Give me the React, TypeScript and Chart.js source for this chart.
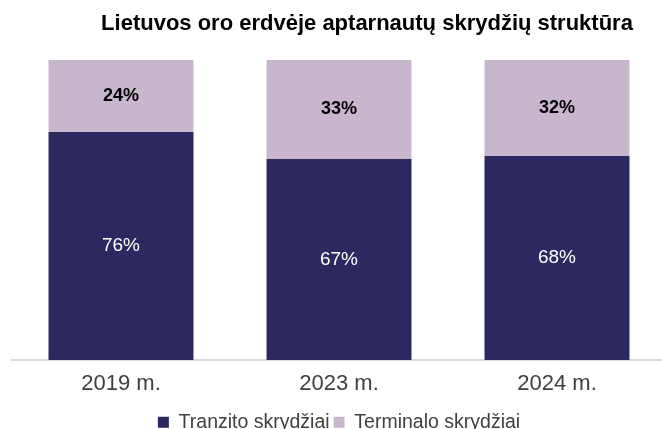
import React, { useEffect, useRef } from "react";
import { Chart, registerables } from "chart.js";

Chart.register(...registerables);

const categories = ["2019 m.", "2023 m.", "2024 m."];
const tranzito = [76, 67, 68];
const terminalo = [24, 33, 32];
const seriesNames = ["Tranzito skrydžiai", "Terminalo skrydžiai"];
const titleText = "Lietuvos oro erdvėje aptarnautų skrydžių struktūra";

const NAVY = "#2B2960";
const LILAC = "#C8B7CC";
const FONT = "'Liberation Sans', Arial, sans-serif";

export default function App() {
  const ref = useRef<HTMLCanvasElement | null>(null);

  useEffect(() => {
    if (!ref.current) return;
    const labelPlugin = {
      id: "barLabels",
      afterDatasetsDraw(chart: any) {
        const ctx = chart.ctx;
        ctx.save();
        ctx.textAlign = "center";
        ctx.textBaseline = "middle";
        chart.data.datasets.forEach((ds: any, di: number) => {
          const meta = chart.getDatasetMeta(di);
          meta.data.forEach((el: any, i: number) => {
            const v = ds.data[i];
            const y = (el.y + el.base) / 2;
            if (di === 0) {
              ctx.font = `19px ${FONT}`;
              ctx.fillStyle = "#FFFFFF";
            } else {
              ctx.font = `bold 18px ${FONT}`;
              ctx.fillStyle = "#000000";
            }
            ctx.fillText(v + "%", el.x, y);
          });
        });
        ctx.restore();
      },
    };
    const titlePlugin = {
      id: "offsetTitle",
      afterDraw(chart: any) {
        const ctx = chart.ctx;
        const ca = chart.chartArea;
        ctx.save();
        ctx.font = `bold 22px ${FONT}`;
        ctx.fillStyle = "#000000";
        ctx.textAlign = "center";
        ctx.textBaseline = "middle";
        ctx.fillText(titleText, (ca.left + ca.right) / 2 + 28, 24);
        ctx.restore();
      },
    };
    const chart = new Chart(ref.current, {
      type: "bar",
      data: {
        labels: categories,
        datasets: [
          { label: seriesNames[0], data: tranzito, backgroundColor: NAVY, borderWidth: 0 },
          { label: seriesNames[1], data: terminalo, backgroundColor: LILAC, borderWidth: 0 },
        ],
      },
      options: {
        animation: false,
        responsive: false,
        maintainAspectRatio: false,
        layout: { padding: { left: 12, right: 14, top: 60, bottom: -13 } },
        datasets: { bar: { categoryPercentage: 1, barPercentage: 0.665 } },
        scales: {
          x: {
            stacked: true,
            grid: { display: false, drawTicks: false },
            border: { display: true, color: "#D9D9D9", width: 2 },
            ticks: { color: "#404040", font: { family: FONT, size: 22 }, padding: 11 },
          },
          y: { stacked: true, min: 0, max: 100, display: false },
        },
        plugins: {
          legend: {
            position: "bottom",
            labels: {
              boxWidth: 11,
              boxHeight: 11,
              color: "#404040",
              font: { family: FONT, size: 19.5 },
              padding: 4,
            },
          },
          tooltip: { enabled: false },
          title: { display: false },
        },
      },
      plugins: [labelPlugin, titlePlugin],
    });
    return () => chart.destroy();
  }, []);

  return (
    <div style={{ position: "absolute", left: 0, top: 0, width: 680, height: 429, overflow: "hidden" }}>
      <canvas ref={ref} width={680} height={429} />
    </div>
  );
}
